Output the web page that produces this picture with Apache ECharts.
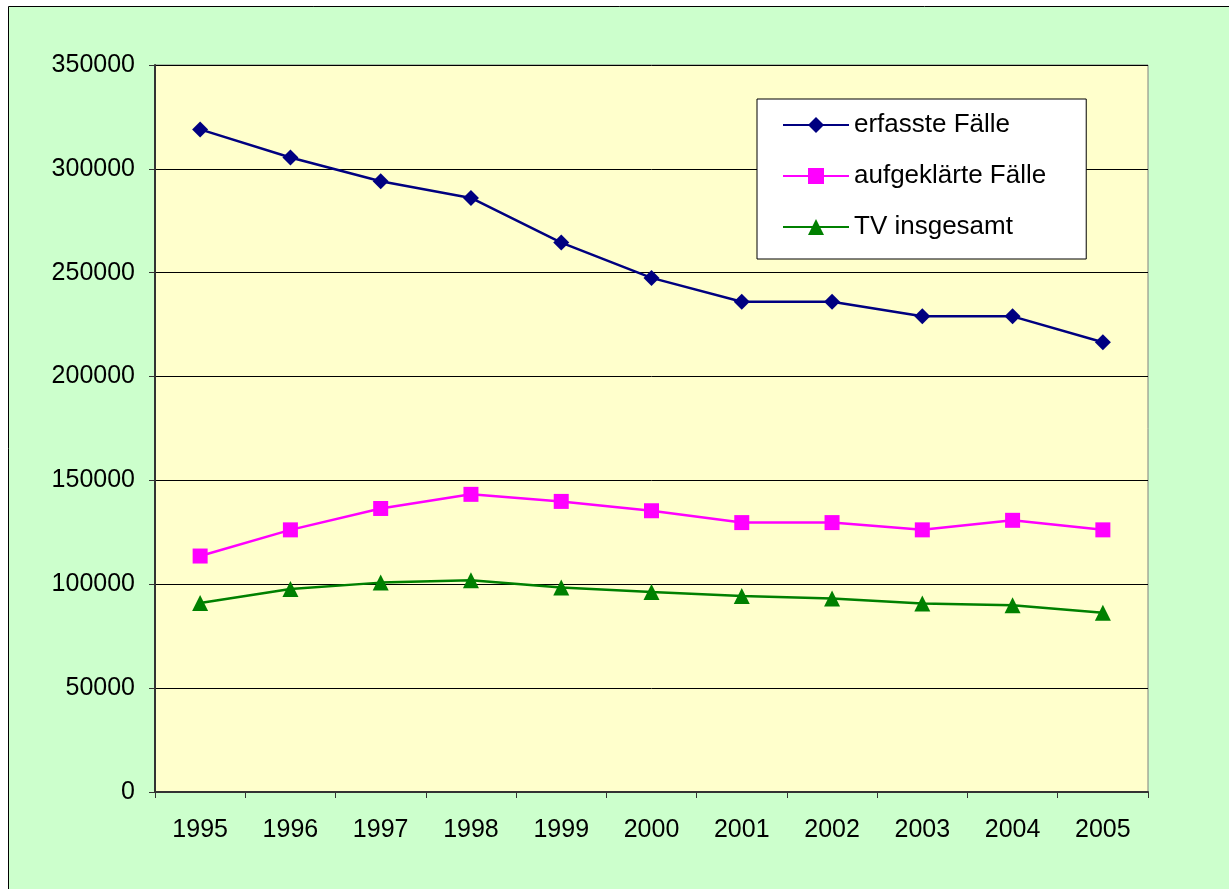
<!DOCTYPE html>
<html>
<head>
<meta charset="utf-8">
<script src="https://cdn.jsdelivr.net/npm/echarts@6/dist/echarts.min.js"></script>
<style>
  html, body { margin: 0; padding: 0; background: #fff; }
  #chart { width: 1229px; height: 889px; }
</style>
</head>
<body>
<div id="chart"></div>
<script>
// Jahre
const years = ["1995", "1996", "1997", "1998", "1999", "2000", "2001", "2002", "2003", "2004", "2005"];
// erfasste Fälle
const erfasst = [319000, 305500, 294000, 286000, 264500, 247500, 236000, 236000, 229000, 229000, 216500];
// aufgeklärte Fälle
const aufgeklaert = [113600, 126200, 136500, 143300, 139900, 135400, 129700, 129700, 126200, 130800, 126200];
// TV insgesamt
const tvGesamt = [91000, 97700, 100800, 102000, 98500, 96300, 94400, 93200, 90800, 89900, 86300];

const font = "'Liberation Sans', Arial, sans-serif";

const myChart = echarts.init(document.getElementById("chart"), null, { renderer: "canvas" });

const option = {
  backgroundColor: "#ffffff",
  animation: false,
  textStyle: { fontFamily: font, color: "#000" },
  graphic: [
    {
      type: "rect",
      z: -10,
      silent: true,
      shape: { x: 8.5, y: 6.5, width: 1240, height: 900 },
      style: { fill: "#CCFFCC", stroke: "#000", lineWidth: 1 },
    },
  ],
  grid: {
    left: 155,
    top: 65,
    right: 81,
    bottom: 97,
    show: true,
    backgroundColor: "#FFFFCC",
    borderColor: "#808080",
    borderWidth: 1,
  },
  legend: {
    orient: "vertical",
    left: 757,
    top: 99,
    backgroundColor: "#ffffff",
    borderColor: "#000",
    borderWidth: 1,
    padding: [11, 40, 17, 25],
    itemGap: 21,
    itemWidth: 66,
    itemHeight: 20,
    textStyle: { fontFamily: font, fontSize: 26, color: "#000", lineHeight: 30 },
    data: ["erfasste Fälle", "aufgeklärte Fälle", "TV insgesamt"],
  },
  xAxis: {
    type: "category",
    data: years,
    boundaryGap: true,
    axisLine: { lineStyle: { color: "#333", width: 2 } },
    axisTick: { show: true, length: 6, lineStyle: { color: "#333" } },
    axisLabel: { fontSize: 25, color: "#000", margin: 26, fontFamily: font },
    splitLine: { show: false },
  },
  yAxis: {
    type: "value",
    min: 0,
    max: 350000,
    interval: 50000,
    axisLine: { show: true, lineStyle: { color: "#333", width: 2 } },
    axisTick: { show: true, length: 6, lineStyle: { color: "#333" } },
    axisLabel: {
      fontSize: 25,
      color: "#000",
      margin: 20,
      fontFamily: font,
      formatter: (v) => String(v),
    },
    splitLine: { show: true, lineStyle: { color: "#000", width: 1 } },
  },
  series: [
    {
      name: "erfasste Fälle",
      type: "line",
      data: erfasst,
      symbol: "diamond",
      symbolSize: 16,
      color: "#000080",
      lineStyle: { width: 2.5, color: "#000080" },
      itemStyle: { color: "#000080" },
    },
    {
      name: "aufgeklärte Fälle",
      type: "line",
      data: aufgeklaert,
      symbol: "rect",
      symbolSize: 15,
      color: "#FF00FF",
      lineStyle: { width: 2.5, color: "#FF00FF" },
      itemStyle: { color: "#FF00FF" },
    },
    {
      name: "TV insgesamt",
      type: "line",
      data: tvGesamt,
      symbol: "triangle",
      symbolSize: 16,
      color: "#008000",
      lineStyle: { width: 2.5, color: "#008000" },
      itemStyle: { color: "#008000" },
    },
  ],
};

myChart.setOption(option);
</script>
</body>
</html>
